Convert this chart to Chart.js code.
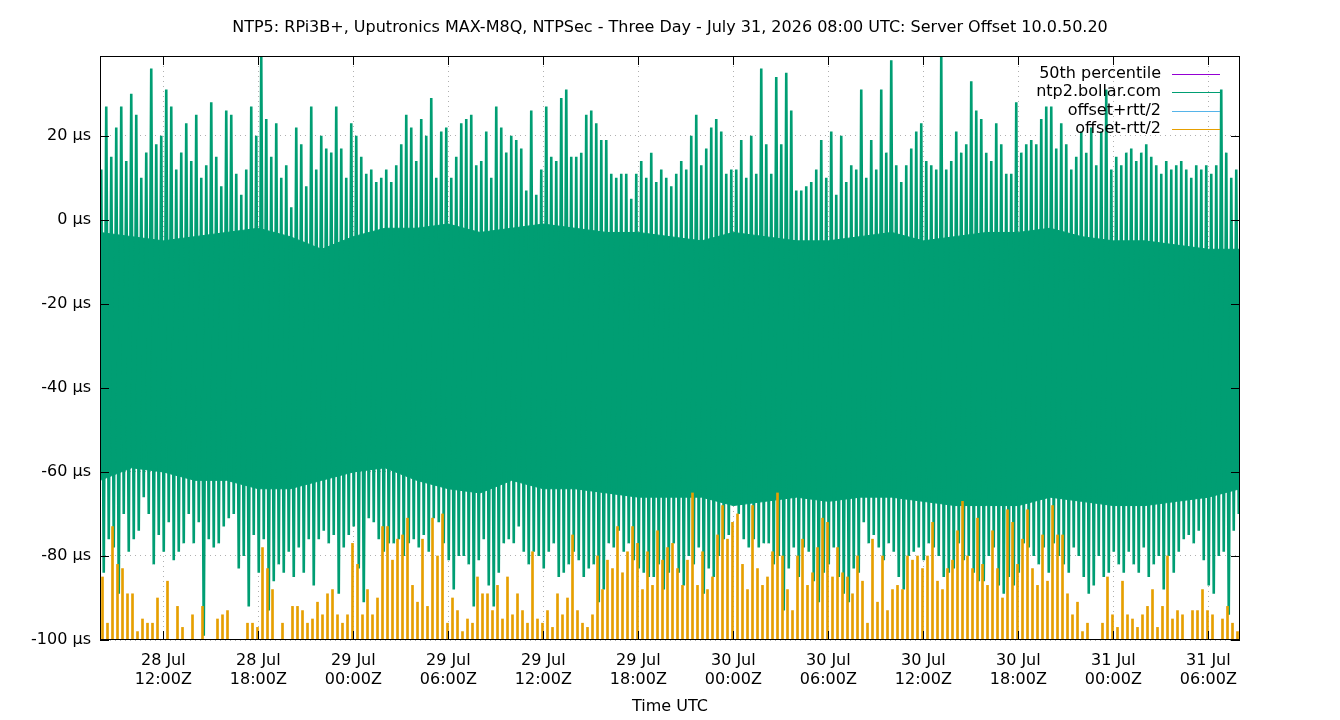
<!DOCTYPE html>
<html>
<head>
<meta charset="utf-8">
<title>NTP5 Server Offset 10.0.50.20</title>
<script src="https://cdn.jsdelivr.net/npm/chart.js@4.4.1/dist/chart.umd.min.js"></script>
<style>
  html, body { margin: 0; padding: 0; background: #fff; }
  #wrap { width: 1340px; height: 720px; }
</style>
</head>
<body>
<div id="wrap"><canvas id="offsetChart" width="1340" height="720"></canvas></div>
<script>
// hours counted from 28 Jul 08:00Z, three days
var spanHours = 72;
var yTicks = [-100, -80, -60, -40, -20, 0, 20];
var yMax = 39;
var xTickHours = [4, 10, 16, 22, 28, 34, 40, 46, 52, 58, 64, 70];
var xTickLabels = [
  ["28 Jul", "12:00Z"], ["28 Jul", "18:00Z"], ["29 Jul", "00:00Z"], ["29 Jul", "06:00Z"],
  ["29 Jul", "12:00Z"], ["29 Jul", "18:00Z"], ["30 Jul", "00:00Z"], ["30 Jul", "06:00Z"],
  ["30 Jul", "12:00Z"], ["30 Jul", "18:00Z"], ["31 Jul", "00:00Z"], ["31 Jul", "06:00Z"]
];

// ntp2.bollar.com offset (µs): upper and lower swing of each ~19 min slot
var offsetHigh = [
  12, 27, 15, 22, 27, 14, 30, 25, 10, 16, 36, 18, 20, 31, 27, 12, 16, 23, 14, 25, 10, 13, 28, 15, 8, 26, 25, 11, 6, 12, 27, 20, 39, 24, 15, 23, 10, 13,
  3, 22, 18, 8, 27, 12, 20, 17, 16, 27, 17, 10, 23, 20, 15, 11, 12, 9, 10, 12, 9, 13, 18, 25, 22, 14, 24, 20, 29, 10, 21, 22, 10, 15, 23, 24, 25, 13,
  14, 21, 10, 27, 22, 16, 20, 19, 17, 7, 26, 6, 12, 27, 15, 14, 29, 31, 15, 15, 16, 25, 26, 23, 19, 19, 11, 10, 11, 11, 5, 11, 14, 10, 16, 9, 12, 10,
  8, 11, 14, 12, 20, 25, 13, 17, 22, 24, 21, 11, 12, 12, 19, 10, 20, 11, 36, 18, 11, 34, 18, 35, 26, 7, 7, 8, 9, 12, 19, 10, 21, 6, 20, 9, 13, 12,
  31, 10, 19, 12, 31, 16, 38, 13, 9, 13, 17, 21, 23, 14, 13, 12, 39, 12, 14, 21, 16, 18, 33, 26, 24, 16, 14, 23, 18, 11, 11, 28, 16, 18, 19, 18, 24, 27,
  27, 17, 23, 18, 12, 15, 21, 16, 22, 13, 21, 31, 12, 15, 13, 16, 17, 14, 16, 18, 15, 13, 11, 14, 12, 13, 14, 12, 10, 13, 12, 13, 11, 13, 31, 16, 10, 12
];
var offsetLow = [
  -84, -76, -78, -89, -70, -79, -76, -74, -66, -70, -82, -75, -79, -72, -81, -79, -77, -70, -77, -72, -99, -76, -78, -77, -73, -71, -70, -83, -80, -92, -75, -84, -76, -93, -86, -82, -84, -79,
  -85, -78, -84, -76, -87, -76, -74, -77, -75, -89, -78, -75, -73, -83, -91, -71, -72, -76, -79, -77, -77, -76, -80, -77, -76, -78, -75, -79, -71, -72, -77, -81, -88, -80, -80, -82, -92, -81,
  -76, -87, -92, -84, -77, -76, -77, -73, -79, -82, -79, -80, -83, -79, -77, -85, -84, -82, -79, -81, -85, -83, -82, -91, -88, -77, -78, -74, -79, -77, -81, -83, -84, -85, -85, -82, -88, -84,
  -77, -84, -87, -80, -82, -78, -89, -83, -85, -80, -76, -75, -68, -70, -76, -78, -76, -78, -77, -77, -82, -80, -93, -83, -78, -85, -78, -79, -86, -91, -84, -82, -78, -85, -89, -91, -83, -84,
  -72, -77, -75, -78, -81, -77, -79, -85, -88, -80, -79, -78, -81, -77, -78, -80, -85, -84, -83, -77, -81, -80, -84, -86, -86, -80, -78, -87, -89, -85, -87, -84, -77, -78, -80, -82, -78, -84,
  -77, -80, -82, -84, -78, -80, -85, -89, -87, -80, -85, -84, -79, -82, -84, -79, -82, -84, -78, -85, -82, -80, -88, -80, -84, -79, -76, -75, -77, -74, -81, -87, -89, -80, -79, -94, -74, -70
];

// mostly solid part of the offset band, every 2 hours
var coreTop = [-3, -4, -5, -4, -3, -2, -4, -7, -4, -2, -2, -1, -3, -2, -1, -2, -3, -3, -4, -5, -3, -4, -5, -5, -4, -3, -5, -4, -3, -3, -2, -4, -5, -5, -6, -7, -7];
var coreBottom = [-62, -59, -60, -62, -62, -64, -64, -62, -60, -59, -62, -64, -65, -62, -64, -64, -65, -66, -66, -66, -68, -67, -66, -67, -66, -66, -67, -68, -68, -68, -66, -67, -68, -68, -67, -66, -64];

// offset-rtt/2 peaks that reach above -100 µs (null = stays below the axis)
var rttLowPeaks = [
  -85, -96, -73, -82, -83, -89, -89, -98, -95, -96, -96, -90, null, -86, null, -92, -97, null, -94, null, -92, null, null, -95, -94, -93, null, null, null, -96, -96, -97, -78, -83, -88, null, -96, null,
  -92, -92, -93, -96, -95, -91, -94, -89, -88, -94, -96, -94, -77, -82, -94, -88, -94, -90, -73, -73, -81, -76, -75, -71, -87, -91, -76, -92, -71, -80, -70, -96, -90, -93, -98, -95, -96, -85,
  -89, -89, -93, -87, -95, -85, -94, -89, -93, -96, -79, -95, -96, -93, -97, -89, -94, -90, -75, -93, -96, -97, -94, -80, -88, -81, -83, -73, -84, -79, -73, -77, -88, -79, -87, -74, -81, -78,
  -77, -83, -87, -81, -65, -87, -79, -88, -85, -75, -68, -76, -72, -70, -82, -88, -68, -83, -87, -85, -79, -65, -80, -88, -93, -80, -76, -87, -84, -78, -71, -72, -85, -78, -84, -85, -89, -80,
  -86, -96, -76, -91, -80, -93, -88, -87, -88, -80, -81, -80, -83, -80, -72, -86, -88, -83, -81, -74, -67, -80, -83, -71, -82, -87, -74, -83, -90, -69, -72, -82, -76, -69, -83, -87, -75, -86,
  -68, -75, -75, -89, -94, -91, -98, -96, null, null, -96, -85, -94, -97, -86, -94, -95, -97, -94, -92, -88, -97, -92, -80, -95, -93, -94, null, -93, -93, -88, -93, -94, null, -95, -92, -96, -98
];

var slot = spanHours / offsetHigh.length;
var offsetTrace = [];
offsetHigh.forEach(function(v, i) {
  offsetTrace.push({x: (i + 0.25) * slot, y: v});
  offsetTrace.push({x: (i + 0.75) * slot, y: offsetLow[i]});
});
var coreStep = spanHours / (coreTop.length - 1);
var coreUpper = coreTop.map(function(v, i) { return {x: i * coreStep, y: v}; });
var coreLower = coreBottom.map(function(v, i) { return {x: i * coreStep, y: v}; });
var rttLowBars = [];
rttLowPeaks.forEach(function(v, i) {
  if (v !== null) rttLowBars.push({x: (i + 0.5) * slot, y: [yTicks[0], v]});
});

var green = "#009e73";
var font16 = {family: "'DejaVu Sans', sans-serif", size: 16, lineHeight: 1.15};

// gnuplot style frame, inward ticks and key at top right
var frame = {
  id: 'frame',
  beforeDraw: function(chart) {
    var ctx = chart.ctx;
    ctx.save();
    ctx.fillStyle = '#fff';
    ctx.fillRect(0, 0, chart.width, chart.height);
    ctx.restore();
  },
  afterDatasetsDraw: function(chart) {
    var ctx = chart.ctx, a = chart.chartArea;
    var xs = chart.scales.x, ys = chart.scales.y;
    ctx.save();
    ctx.strokeStyle = '#000';
    ctx.lineWidth = 1;
    ctx.beginPath();
    ys.ticks.forEach(function(t) {
      var py = Math.round(ys.getPixelForValue(t.value)) + 0.5;
      ctx.moveTo(a.left, py); ctx.lineTo(a.left + 9, py);
      ctx.moveTo(a.right, py); ctx.lineTo(a.right - 9, py);
    });
    xs.ticks.forEach(function(t) {
      var px = Math.round(xs.getPixelForValue(t.value)) + 0.5;
      ctx.moveTo(px, a.bottom); ctx.lineTo(px, a.bottom - 9);
      ctx.moveTo(px, a.top); ctx.lineTo(px, a.top + 9);
    });
    ctx.stroke();
    ctx.strokeRect(a.left + 0.5, a.top + 0.5, a.right - a.left - 1, a.bottom - a.top - 1);

    ctx.font = "16px 'DejaVu Sans', sans-serif";
    ctx.textAlign = 'right';
    ctx.textBaseline = 'middle';
    var row = 0;
    chart.data.datasets.forEach(function(ds) {
      if (!ds.label) return;
      var y = a.top + 17.5 + row * 18.5;
      ctx.fillStyle = '#000';
      ctx.fillText(ds.label, a.right - 79, y);
      ctx.strokeStyle = ds.borderColor;
      ctx.beginPath();
      ctx.moveTo(a.right - 68, Math.round(y) + 0.5);
      ctx.lineTo(a.right - 20, Math.round(y) + 0.5);
      ctx.stroke();
      row++;
    });
    ctx.restore();
  }
};

var ctx = document.getElementById("offsetChart");
new Chart(ctx, {
  type: 'line',
  data: {
    datasets: [{
      label: '50th percentile',
      data: [],
      borderColor: "#9400d3",
      borderWidth: 1,
      order: 5
    }, {
      label: 'ntp2.bollar.com',
      data: offsetTrace,
      borderColor: green,
      borderWidth: 2.6,
      order: 2
    }, {
      label: 'offset+rtt/2',
      data: [],
      borderColor: "#56b4e9",
      borderWidth: 1,
      order: 1
    }, {
      type: 'bar',
      label: 'offset-rtt/2',
      data: rttLowBars,
      backgroundColor: "#e69f00",
      borderColor: "#e69f00",
      borderWidth: 0,
      barThickness: 2,
      grouped: false,
      order: 0
    }, {
      label: '',
      data: coreUpper,
      borderColor: green,
      backgroundColor: green,
      borderWidth: 1,
      fill: 5,
      order: 3
    }, {
      label: '',
      data: coreLower,
      borderColor: green,
      borderWidth: 1,
      order: 4
    }]
  },
  options: {
    responsive: false,
    animation: false,
    devicePixelRatio: 1,
    events: [],
    layout: {padding: 0},
    elements: {
      point: {radius: 0},
      line: {tension: 0}
    },
    plugins: {
      legend: {display: false},
      tooltip: {enabled: false},
      title: {
        display: true,
        text: 'NTP5: RPi3B+, Uputronics MAX-M8Q, NTPSec - Three Day - July 31, 2026 08:00 UTC: Server Offset 10.0.50.20',
        color: '#000',
        font: {family: "'DejaVu Sans', sans-serif", size: 16, weight: 'normal', lineHeight: 1.2},
        padding: {top: 18, bottom: 18.8}
      }
    },
    scales: {
      x: {
        type: 'linear',
        min: 0,
        max: spanHours,
        offset: false,
        afterBuildTicks: function(scale) {
          scale.ticks = xTickHours.map(function(h) { return {value: h}; });
        },
        afterFit: function(scale) { scale.height = 80; },
        ticks: {
          autoSkip: false,
          maxRotation: 0,
          padding: 12,
          color: '#000',
          font: font16,
          callback: function(value, index) { return xTickLabels[index]; }
        },
        grid: {color: '#b0b0b0', drawTicks: false, offset: false},
        border: {display: false, dash: [1, 4]},
        title: {
          display: true,
          text: 'Time UTC',
          color: '#000',
          font: {family: "'DejaVu Sans', sans-serif", size: 16, lineHeight: 1.2},
          padding: {top: 0, bottom: 4}
        }
      },
      y: {
        type: 'linear',
        min: yTicks[0],
        max: yMax,
        afterBuildTicks: function(scale) {
          scale.ticks = yTicks.map(function(v) { return {value: v}; });
        },
        afterFit: function(scale) { scale.width = 100; },
        ticks: {
          padding: 9,
          color: '#000',
          font: font16,
          callback: function(value) { return value + ' µs'; }
        },
        grid: {color: '#b0b0b0', drawTicks: false},
        border: {display: false, dash: [1, 4]}
      },
      // empty right margin so the plot ends at 1240 px and the title stays centred
      yRight: {
        type: 'linear',
        position: 'right',
        min: yTicks[0],
        max: yMax,
        afterFit: function(scale) { scale.width = 100; },
        ticks: {display: false},
        grid: {display: false},
        border: {display: false}
      }
    }
  },
  plugins: [frame]
});
</script>
</body>
</html>
